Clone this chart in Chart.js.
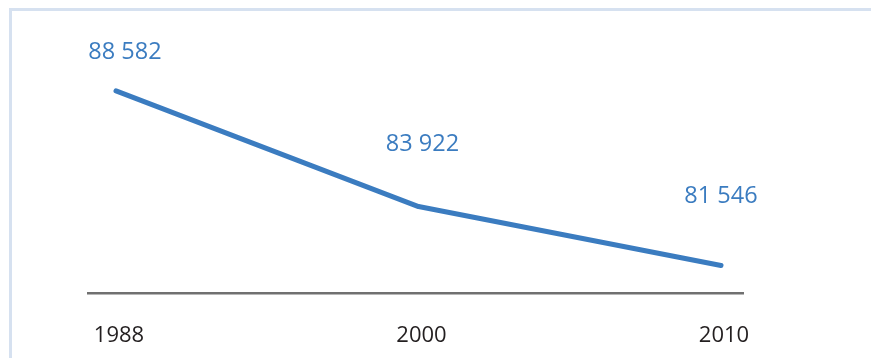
<!DOCTYPE html>
<html>
<head>
<meta charset="utf-8">
<script src="https://cdn.jsdelivr.net/npm/chart.js@4/dist/chart.umd.min.js"></script>
<style>
  html, body { margin: 0; padding: 0; background: #ffffff; overflow: hidden; }
  #frame { position: absolute; left: 9px; top: 8px; width: 1000px; height: 500px;
           border-left: 3px solid #d6e1f0; border-top: 3px solid #d6e1f0; }
  #c { position: absolute; left: 0; top: 0; }
</style>
</head>
<body>
<div id="frame"></div>
<canvas id="c" width="871" height="358"></canvas>
<script>
const categories = ['1988', '2000', '2010'];
const values = [88582, 83922, 81546];
const valueLabels = ['88 582', '83 922', '81 546'];

// label placement relative to each point (style only)
const labelShift = [[9, -39], [4, -62], [0, -69]];

const valueLabelPlugin = {
  id: 'valueLabels',
  afterDatasetsDraw(chart) {
    const ctx = chart.ctx;
    const meta = chart.getDatasetMeta(0);
    ctx.save();
    ctx.font = '23.5px "Open Sans"';
    ctx.fillStyle = '#3b7cc0';
    ctx.textAlign = 'center';
    ctx.textBaseline = 'middle';
    meta.data.forEach((pt, i) => {
      ctx.fillText(valueLabels[i], pt.x + labelShift[i][0], pt.y + labelShift[i][1]);
    });
    ctx.restore();
  }
};

new Chart(document.getElementById('c'), {
  type: 'line',
  data: {
    datasets: [{
      data: values.map((v, i) => ({ x: i, y: v })),
      borderColor: '#3b7cc0',
      borderWidth: 5,
      borderCapStyle: 'round',
      borderJoinStyle: 'round',
      pointRadius: 0,
      pointHoverRadius: 0,
      tension: 0,
      fill: false
    }]
  },
  options: {
    responsive: false,
    animation: false,
    events: [],
    layout: { padding: { left: 88, right: 128, top: 20, bottom: -20 } },
    plugins: { legend: { display: false }, tooltip: { enabled: false } },
    scales: {
      x: {
        type: 'linear',
        min: -0.0926,
        max: 2.0727,
        afterBuildTicks: (scale) => { scale.ticks = categories.map((c, i) => ({ value: i })); },
        grid: { display: false, drawTicks: false },
        border: { display: true, color: '#707070', width: 2.5 },
        ticks: {
          callback: (v) => categories[v],
          color: '#231f20',
          font: { family: '"Open Sans"', size: 22 },
          padding: 29,
          labelOffset: 3,
          maxRotation: 0,
          autoSkip: false
        }
      },
      y: {
        display: false,
        min: 80416,
        max: 91436
      }
    }
  },
  plugins: [valueLabelPlugin]
});
</script>
</body>
</html>
